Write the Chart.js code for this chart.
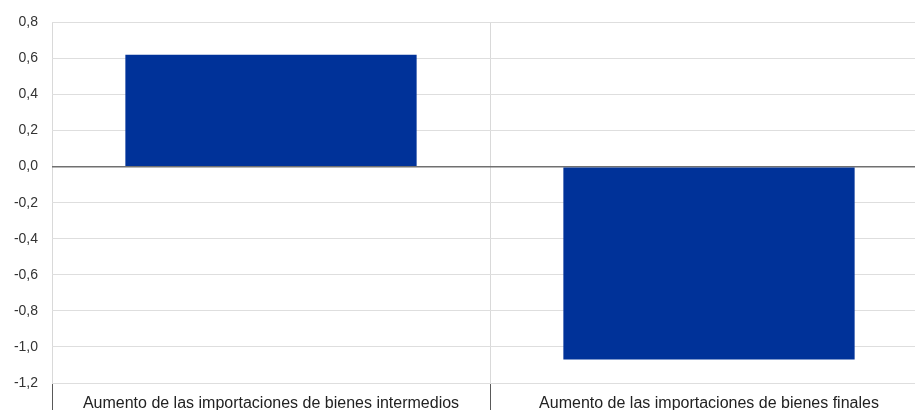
<!DOCTYPE html>
<html>
<head>
<meta charset="utf-8">
<script src="https://cdn.jsdelivr.net/npm/chart.js@4"></script>
<style>
  html, body { margin: 0; padding: 0; background: #fff; overflow: hidden; }
  #wrap { width: 928px; height: 425px; position: relative; }
</style>
</head>
<body>
<div id="wrap"><canvas id="chart"></canvas></div>
<script>
// chart data
const categories = [
    "Aumento de las importaciones de bienes intermedios",
    "Aumento de las importaciones de bienes finales"
];
const values = [0.62, -1.07];
const yMin = -1.2;
const yMax = 0.8;
const yStep = 0.2;

Chart.defaults.font.family = "'Liberation Sans', Arial, sans-serif";
Chart.defaults.color = "#333333";

const ctx = document.getElementById("chart").getContext("2d");

new Chart(ctx, {
    type: "bar",
    data: {
        labels: categories,
        datasets: [{
            data: values,
            backgroundColor: "#003299",
            borderWidth: 0,
            categoryPercentage: 1.0,
            barPercentage: 0.665
        }]
    },
    options: {
        responsive: true,
        maintainAspectRatio: false,
        animation: false,
        layout: { padding: { top: 22, left: 0, right: 0, bottom: 0 } },
        plugins: {
            legend: { display: false },
            tooltip: { enabled: false }
        },
        scales: {
            x: {
                border: { display: false },
                grid: {
                    offset: true,
                    color: "#d9d9d9",
                    tickColor: "#595959",
                    tickLength: 27
                },
                ticks: {
                    color: "#222222",
                    font: { size: 16 },
                    maxRotation: 0,
                    autoSkip: false,
                    padding: -16
                },
                afterFit: s => { s.height = 42; }
            },
            y: {
                min: yMin,
                max: yMax,
                border: { display: false },
                grid: {
                    drawTicks: false,
                    color: c => (Math.abs(c.tick.value) < 1e-9 ? "#707070" : "#dedede"),
                    lineWidth: c => (Math.abs(c.tick.value) < 1e-9 ? 1.5 : 1)
                },
                ticks: {
                    stepSize: yStep,
                    padding: 14,
                    font: { size: 14 },
                    color: "#333333",
                    callback: v => v.toFixed(1).replace(".", ",")
                },
                afterFit: s => { s.width = 52; }
            }
        }
    }
});
</script>
</body>
</html>
